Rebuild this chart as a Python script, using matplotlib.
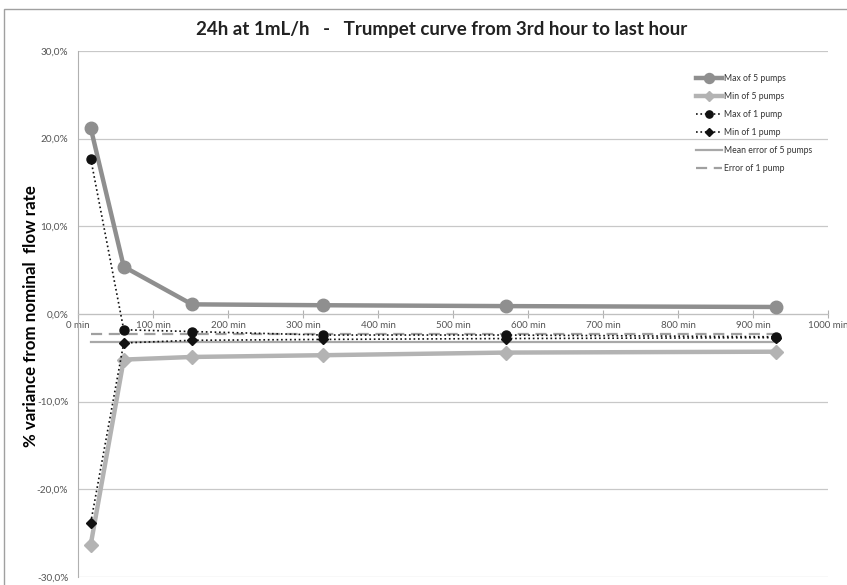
import matplotlib
matplotlib.use("Agg")
import matplotlib.pyplot as plt
from matplotlib.patches import Rectangle
from matplotlib.ticker import FuncFormatter

# sampling windows (min) and % variance values
minutes = [17, 61, 152, 327, 571, 931]
max_5_pumps = [21.2, 5.4, 1.1, 1.0, 0.9, 0.8]
min_5_pumps = [-26.3, -5.2, -4.9, -4.7, -4.4, -4.3]
max_1_pump = [17.7, -1.8, -2.0, -2.4, -2.4, -2.6]
min_1_pump = [-23.8, -3.3, -3.0, -2.9, -2.8, -2.7]
mean_error_5 = [-3.2, -3.2, -3.2, -3.2, -3.2, -3.2]
error_1_pump = [-2.3, -2.3, -2.3, -2.3, -2.3, -2.3]

x_ticks = [0, 100, 200, 300, 400, 500, 600, 700, 800, 900, 1000]
y_ticks = [-30, -20, -10, 0, 10, 20, 30]

plt.rcParams['font.family'] = ['Lato', 'DejaVu Sans']

fig = plt.figure(figsize=(8.47, 5.85), dpi=100)
ax = fig.add_axes([78 / 847, 1 - 577 / 585, 750 / 847, 526 / 585])

# outer chart frame
fig.patches.append(Rectangle((4 / 847, -0.1), 1.2, 1 - 9 / 585 + 0.1,
                             transform=fig.transFigure, fill=False,
                             edgecolor="#a0a0a0", linewidth=1.0))

ax.plot(minutes, max_5_pumps, color="#8f8f8f", linewidth=3.2, marker="o",
        markersize=9, label="Max of 5 pumps", zorder=3)
ax.plot(minutes, min_5_pumps, color="#b3b3b3", linewidth=3.2, marker="D",
        markersize=7, label="Min of 5 pumps", zorder=3)
ax.plot(minutes, max_1_pump, color="#111111", linewidth=1.2, linestyle=":",
        marker="o", markersize=6.5, label="Max of 1 pump", zorder=4)
ax.plot(minutes, min_1_pump, color="#111111", linewidth=1.2, linestyle=":",
        marker="D", markersize=5, label="Min of 1 pump", zorder=4)
ax.plot(minutes, mean_error_5, color="#a8a8a8", linewidth=1.6,
        label="Mean error of 5 pumps", zorder=2)
ax.plot(minutes, error_1_pump, color="#a0a0a0", linewidth=1.6,
        linestyle=(0, (5, 3)), label="Error of 1 pump", zorder=2)

ax.set_xlim(0, 1000)
ax.set_ylim(-30, 30)
ax.set_xticks(x_ticks)
ax.set_yticks(y_ticks)
ax.xaxis.set_major_formatter(FuncFormatter(lambda v, p: f"{int(v)} min"))
ax.yaxis.set_major_formatter(FuncFormatter(lambda v, p: f"{v:.1f}%".replace(".", ",")))

ax.grid(True, axis="y", color="#c8c8c8", linewidth=0.9)
ax.set_axisbelow(True)
for side in ["top", "right"]:
    ax.spines[side].set_visible(False)
ax.spines["bottom"].set_position(("data", 0))
ax.spines["bottom"].set_color("#c0c0c0")
ax.spines["left"].set_color("#b0b0b0")
ax.tick_params(axis="x", direction="inout", length=6, color="#b0b0b0",
               labelsize=7.0, labelcolor="#555555", pad=2)
ax.tick_params(axis="y", length=0, labelsize=7.2, labelcolor="#555555", pad=7)

ax.set_ylabel("% variance from nominal  flow rate", fontsize=12.2,
              fontweight="bold")
ax.yaxis.label.set_va("center")
ax.yaxis.set_label_coords(-47 / 750, 0.496)

fig.text(442 / 847, 1 - 29 / 585, "24h at 1mL/h   -   Trumpet curve from 3rd hour to last hour",
         ha="center", va="center", fontsize=13.5, fontweight="bold", color="#222222")

ax.legend(loc="upper left", bbox_to_anchor=(0.813, 0.971), frameon=False,
          fontsize=6.2, handlelength=3.1, handletextpad=0.25, labelspacing=1.05,
          labelcolor="#333333", markerscale=0.8)

plt.savefig("out.png", dpi=100)
plt.close()
